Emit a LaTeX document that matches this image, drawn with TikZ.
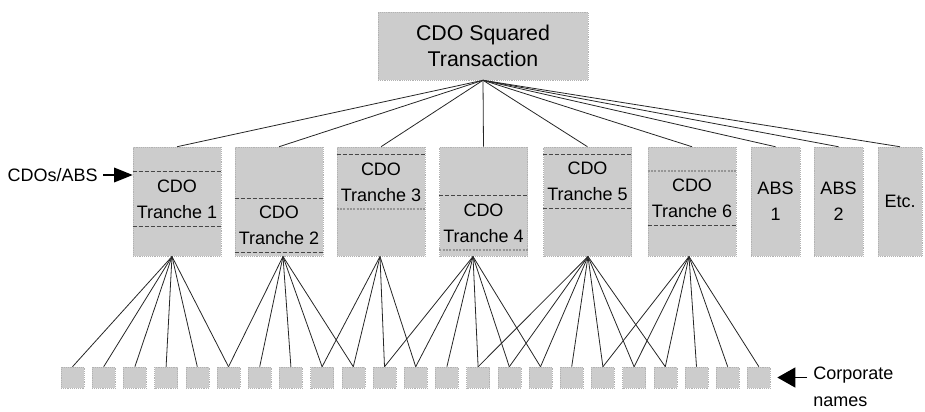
\documentclass[tikz,border=0pt]{standalone}
\usepackage{fontspec}
\setmainfont{Liberation Sans}
\usepackage{tikz}
\usetikzlibrary{arrows.meta}
\definecolor{boxgray}{RGB}{204,204,204}
\definecolor{dashgray}{RGB}{70,70,70}
\definecolor{dotgray}{RGB}{150,150,150}

\begin{document}
\begin{tikzpicture}[x=0.75pt,y=-0.75pt,
	grey box/.style={fill=boxgray,draw=black!30,densely dotted,inner sep=0pt},
	deal/.style={grey box,minimum width=157.5pt,minimum height=51pt,align=center,font=\fontsize{16}{20}\selectfont},
	tranche/.style={grey box,minimum width=66pt,minimum height=81.75pt},
	narrow/.style={grey box,minimum height=81.75pt,align=center,font=\fontsize{13.5}{19.5}\selectfont},
	band/.style={inner sep=0pt,minimum width=66pt,minimum height=40.5pt,align=center,font=\fontsize{13.5}{19.5}\selectfont},
	corp box/.style={grey box,minimum width=17.25pt,minimum height=15.75pt},
	txt/.style={inner sep=0pt,font=\fontsize{13.5}{20}\selectfont},
	cut/.style={dashgray,line width=0.6pt,dash pattern=on 3pt off 1.5pt},
	cutdot/.style={dotgray,line width=1.4pt,dash pattern=on 1.5pt off 1pt},
	link/.style={black!85,line width=0.6pt},
	pointer/.style={black,line width=1pt,-{Triangle[length=14pt,width=11pt]}},
	wide pointer/.style={black,line width=1pt,-{Triangle[length=13.5pt,width=15pt]}}]

	\useasboundingbox (0,0) rectangle (925,411);

	% the deal
	\node[deal] (top) at (483,46) {CDO Squared\\Transaction};

	% underlying CDO tranches and ABS
	\node[tranche] (t1) at (177,201.5) {};
	\node[tranche] (t2) at (279,201.5) {};
	\node[tranche] (t3) at (381,201.5) {};
	\node[tranche] (t4) at (483.5,201.5) {};
	\node[tranche] (t5) at (587.5,201.5) {};
	\node[tranche] (t6) at (692,201.5) {};
	\node[narrow, minimum width=36.75pt] (abs1) at (775.5,201.5) {ABS\\1};
	\node[narrow, minimum width=36.75pt] (abs2) at (838.5,201.5) {ABS\\2};
	\node[narrow, minimum width=33pt] (etc) at (900,201.5) {Etc.};

	\node[band] (t1lbl) at (177,199)   {CDO\\Tranche 1};
	\node[band] (t2lbl) at (279,225.5) {CDO\\Tranche 2};
	\node[band] (t3lbl) at (381,182)   {CDO\\Tranche 3};
	\node[band] (t4lbl) at (483.5,223) {CDO\\Tranche 4};
	\node[band] (t5lbl) at (587.5,181.5) {CDO\\Tranche 5};
	\node[band] (t6lbl) at (692,198)   {CDO\\Tranche 6};

	\draw[cut]    (t1lbl.north west) -- (t1lbl.north east);
	\draw[cut]    (t1lbl.south west) -- (t1lbl.south east);
	\draw[cut]    (t2lbl.north west) -- (t2lbl.north east);
	\draw[cut]    (t2lbl.south west) -- (t2lbl.south east);
	\draw[cut]    (t3lbl.north west) -- (t3lbl.north east);
	\draw[cutdot] (t3lbl.south west) -- (t3lbl.south east);
	\draw[cut]    (t4lbl.north west) -- (t4lbl.north east);
	\draw[cutdot] (t4lbl.south west) -- (t4lbl.south east);
	\draw[cut]    (t5lbl.north west) -- (t5lbl.north east);
	\draw[cut]    (t5lbl.south west) -- (t5lbl.south east);
	\draw[cutdot] (t6lbl.north west) -- (t6lbl.north east);
	\draw[cut]    (t6lbl.south west) -- (t6lbl.south east);

	% corporate names
	\node[corp box] (n0)  at (72.5,377.5)  {};
	\node[corp box] (n1)  at (103.7,377.5) {};
	\node[corp box] (n2)  at (134.9,377.5) {};
	\node[corp box] (n3)  at (166.1,377.5) {};
	\node[corp box] (n4)  at (197.3,377.5) {};
	\node[corp box] (n5)  at (228.5,377.5) {};
	\node[corp box] (n6)  at (259.7,377.5) {};
	\node[corp box] (n7)  at (290.9,377.5) {};
	\node[corp box] (n8)  at (322.1,377.5) {};
	\node[corp box] (n9)  at (353.3,377.5) {};
	\node[corp box] (n10) at (384.5,377.5) {};
	\node[corp box] (n11) at (415.7,377.5) {};
	\node[corp box] (n12) at (446.9,377.5) {};
	\node[corp box] (n13) at (478.1,377.5) {};
	\node[corp box] (n14) at (509.3,377.5) {};
	\node[corp box] (n15) at (540.5,377.5) {};
	\node[corp box] (n16) at (571.7,377.5) {};
	\node[corp box] (n17) at (602.9,377.5) {};
	\node[corp box] (n18) at (634.1,377.5) {};
	\node[corp box] (n19) at (665.3,377.5) {};
	\node[corp box] (n20) at (696.5,377.5) {};
	\node[corp box] (n21) at (727.7,377.5) {};
	\node[corp box] (n22) at (758.9,377.5) {};

	% side labels
	\node[txt, inner xsep=3.75pt, anchor=east] (cdos) at (103,175) {CDOs/ABS};
	\node[txt, align=left, anchor=north west] (corp) at (813,367) {Corporate\\names};
	\coordinate (corptail) at (807,377.5);
	\draw[pointer] (cdos.east) -- (cdos.east -| t1.west);
	\draw[wide pointer, shorten >=5pt] (corptail) -- (n22.east);

	% feet of the tranches
	\coordinate (t1foot) at (172,256.5);
	\coordinate (t2foot) at (283,256.5);
	\coordinate (t3foot) at (380,256.5);
	\coordinate (t4foot) at (473,256.5);
	\coordinate (t5foot) at (588,256.5);
	\coordinate (t6foot) at (689,256.5);

	\path[link] (top.south) edge (t1.north);
	\path[link] (top.south) edge (t2.north);
	\path[link] (top.south) edge (t3.north);
	\path[link] (top.south) edge (t4.north);
	\path[link] (top.south) edge (t5.north);
	\path[link] (top.south) edge (t6.north);
	\path[link] (top.south) edge (abs1.north);
	\path[link] (top.south) edge (abs2.north);
	\path[link] (top.south) edge (etc.north);

	\path[link] (t1foot) edge (n0.north);
	\path[link] (t1foot) edge (n1.north);
	\path[link] (t1foot) edge (n2.north);
	\path[link] (t1foot) edge (n3.north);
	\path[link] (t1foot) edge (n4.north);
	\path[link] (t1foot) edge (n5.north);
	\path[link] (t2foot) edge (n5.north);
	\path[link] (t2foot) edge (n6.north);
	\path[link] (t2foot) edge (n7.north);
	\path[link] (t2foot) edge (n8.north);
	\path[link] (t2foot) edge (n9.north);
	\path[link] (t3foot) edge (n8.north);
	\path[link] (t3foot) edge (n9.north);
	\path[link] (t3foot) edge (n10.north);
	\path[link] (t3foot) edge (n11.north);
	\path[link] (t4foot) edge (n10.north);
	\path[link] (t4foot) edge (n11.north);
	\path[link] (t4foot) edge (n12.north);
	\path[link] (t4foot) edge (n13.north);
	\path[link] (t4foot) edge (n14.north);
	\path[link] (t4foot) edge (n15.north);
	\path[link] (t5foot) edge (n13.north);
	\path[link] (t5foot) edge (n14.north);
	\path[link] (t5foot) edge (n15.north);
	\path[link] (t5foot) edge (n16.north);
	\path[link] (t5foot) edge (n17.north);
	\path[link] (t5foot) edge (n18.north);
	\path[link] (t5foot) edge (n19.north);
	\path[link] (t6foot) edge (n17.north);
	\path[link] (t6foot) edge (n18.north);
	\path[link] (t6foot) edge (n19.north);
	\path[link] (t6foot) edge (n20.north);
	\path[link] (t6foot) edge (n21.north);
	\path[link] (t6foot) edge (n22.north);

\end{tikzpicture}
\end{document}
